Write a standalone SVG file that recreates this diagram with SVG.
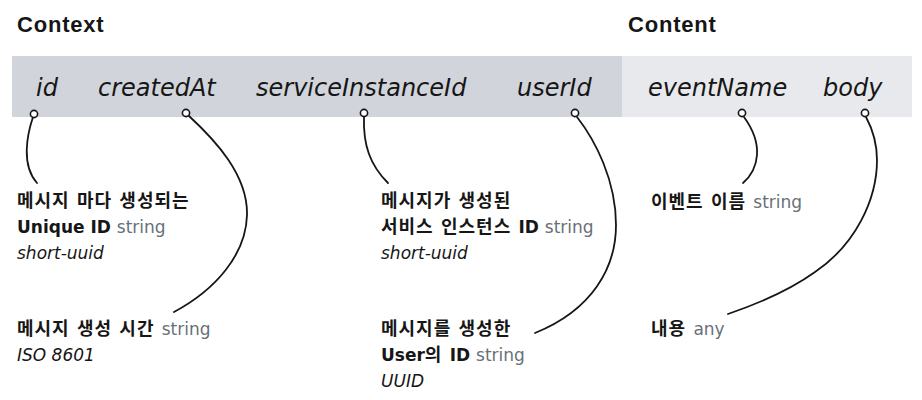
<svg xmlns="http://www.w3.org/2000/svg" width="922" height="400" viewBox="0 0 922 400">
<style>
.title{font-family:"Liberation Sans","Noto Sans CJK KR",sans-serif;font-weight:bold;font-size:22px;letter-spacing:0.8px;fill:#161616}
.field{font-family:"DejaVu Sans",sans-serif;font-style:italic;font-size:24px;fill:#161616}
.t{font-family:"DejaVu Sans","Noto Sans CJK KR",sans-serif;font-size:17px;fill:#161616}
.b{font-weight:bold}
.k{font-size:18px;letter-spacing:1px}
.g{fill:#697077;font-weight:normal}
.i{font-style:italic}
.dot{fill:#ffffff;stroke:#161616;stroke-width:1.6}
.link{fill:none;stroke:#161616;stroke-width:1.8;stroke-linecap:round}
</style>
<rect width="922" height="400" fill="#ffffff"/>
<g id="header">
<text class="title" x="17" y="32">Context</text>
<text class="title" x="628" y="32">Content</text>
</g>
<g id="bar">
<rect x="12" y="56" width="610" height="61" fill="#d1d5db"/>
<rect x="622" y="56" width="290" height="61" fill="#e8e9ec"/>
</g>
<g id="connectors">
<path class="link" d="M33,117 C27,135 21,165 37,183"/>
<path class="link" d="M189,116 C215,140 248,175 247,215 C246,255 215,290 174,312"/>
<path class="link" d="M364,117 C363,145 370,165 388,183"/>
<path class="link" d="M577,117 C595,140 616,180 616,225 C616,268 592,310 535,333"/>
<path class="link" d="M744,117 C752,128 758,140 757,155 C756,168 750,177 743,183"/>
<path class="link" d="M866,117 C873,130 877,145 877,160 C877,200 855,245 815,272 C790,290 760,303 728,314"/>
</g>
<g id="node-id">
<text class="field" x="36" y="96">id</text>
<circle class="dot" cx="34" cy="114" r="3.6"/>
<text class="t b" x="17" y="207"><tspan class="k">메시지 마다 생성되는</tspan></text>
<text class="t b" x="17" y="233">Unique ID <tspan class="g">string</tspan></text>
<text class="t i" x="17" y="259">short-uuid</text>
</g>
<g id="node-createdAt">
<text class="field" x="98" y="96">createdAt</text>
<circle class="dot" cx="186" cy="113" r="3.6"/>
<text class="t b" x="17" y="335"><tspan class="k">메시지 생성 시간 </tspan><tspan class="g">string</tspan></text>
<text class="t i" x="17" y="361">ISO 8601</text>
</g>
<g id="node-serviceInstanceId">
<text class="field" x="256" y="96">serviceInstanceId</text>
<circle class="dot" cx="364" cy="113" r="3.6"/>
<text class="t b" x="381" y="207"><tspan class="k">메시지가 생성된</tspan></text>
<text class="t b" x="381" y="233"><tspan class="k">서비스 인스턴스 </tspan>ID <tspan class="g">string</tspan></text>
<text class="t i" x="381" y="259">short-uuid</text>
</g>
<g id="node-userId">
<text class="field" x="517" y="96">userId</text>
<circle class="dot" cx="575" cy="113" r="3.6"/>
<text class="t b" x="381" y="335"><tspan class="k">메시지를 생성한</tspan></text>
<text class="t b" x="381" y="361">User<tspan class="k">의 </tspan>ID <tspan class="g">string</tspan></text>
<text class="t i" x="381" y="387">UUID</text>
</g>
<g id="node-eventName">
<text class="field" x="648" y="96">eventName</text>
<circle class="dot" cx="742" cy="113" r="3.6"/>
<text class="t b" x="651" y="208"><tspan class="k">이벤트 이름 </tspan><tspan class="g">string</tspan></text>
</g>
<g id="node-body">
<text class="field" x="823" y="96">body</text>
<circle class="dot" cx="865" cy="113" r="3.6"/>
<text class="t b" x="651" y="335"><tspan class="k">내용 </tspan><tspan class="g">any</tspan></text>
</g>
</svg>
